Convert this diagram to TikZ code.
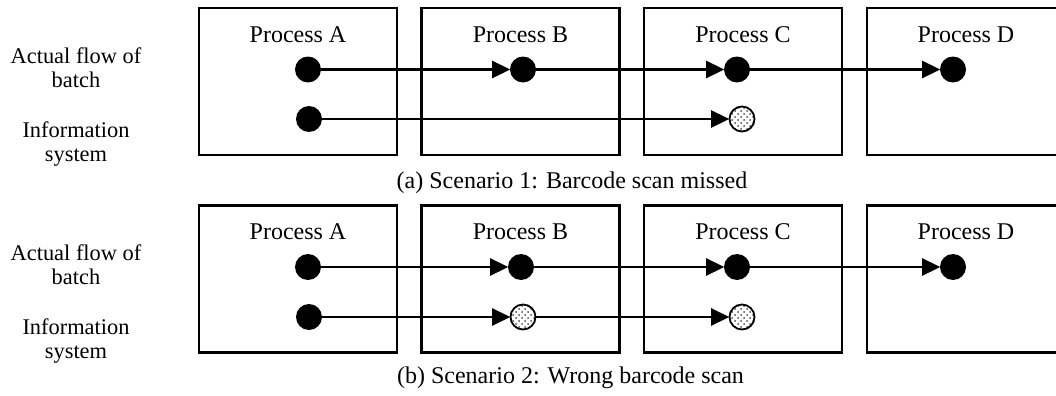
\documentclass[tikz,border=0pt]{standalone}
\usepackage{fontspec}
\setmainfont{Liberation Serif}
\usetikzlibrary{arrows.meta,patterns}
\tikzset{
  procbox/.style={draw, line width=1.1pt, rectangle, minimum width=99pt, minimum height=73.5pt, inner sep=0pt},
  lbl/.style={font=\fontsize{12}{12}\selectfont, anchor=base, inner sep=0pt},
  sidelbl/.style={font=\fontsize{11.2}{12}\selectfont, anchor=base, inner sep=0pt},
  fulldot/.style={circle, fill=black, minimum size=13pt, inner sep=0pt},
  scandot/.style={circle, draw, line width=0.9pt, fill=white, pattern=crosshatch dots, pattern color=black!70, minimum size=12.5pt, inner sep=0pt},
  flow/.style={line width=1.3pt, -{Triangle[length=9pt,width=8.5pt]}, shorten >=-0.3pt}
}
\begin{document}
\begin{tikzpicture}[x=0.5pt,y=-0.5pt]
\useasboundingbox (0,0) rectangle (1056,396);
\clip (0,0) rectangle (1056,396);
% ---------- panel (a) ----------
\node[procbox] (pa1) at (298,81.5) {};
\node[procbox] (pb1) at (520.5,81.5) {};
\node[procbox] (pc1) at (743,81.5) {};
\node[procbox] (pd1) at (966,81.5) {};
\node[lbl] (ta1) at (298,42) {Process A};
\node[lbl] (tb1) at (520.5,42) {Process B};
\node[lbl] (tc1) at (743,42) {Process C};
\node[lbl] (td1) at (966,42) {Process D};
\node[sidelbl] (l1a) at (76,63) {Actual flow of};
\node[sidelbl] (l1b) at (76,87) {batch};
\node[sidelbl] (l1c) at (76,137) {Information};
\node[sidelbl] (l1d) at (76,161) {system};
\node[fulldot] (a1) at (308,69.5) {};
\node[fulldot] (b1) at (523,69.5) {};
\node[fulldot] (c1) at (737,69.5) {};
\node[fulldot] (d1) at (953,69.5) {};
\node[fulldot] (ai1) at (309,119) {};
\node[scandot] (ci1) at (742,119) {};
\draw[flow] (a1) -- (b1);
\draw[flow] (b1) -- (c1);
\draw[flow] (c1) -- (d1);
\draw[flow] (ai1) -- (ci1);
\node[lbl] (cap1) at (572,188) {(a) Scenario 1: Barcode scan missed};
% ---------- panel (b) ----------
\node[procbox] (pa2) at (298,279) {};
\node[procbox] (pb2) at (520.5,279) {};
\node[procbox] (pc2) at (743,279) {};
\node[procbox] (pd2) at (966,279) {};
\node[lbl] (ta2) at (298,239) {Process A};
\node[lbl] (tb2) at (520.5,239) {Process B};
\node[lbl] (tc2) at (743,239) {Process C};
\node[lbl] (td2) at (966,239) {Process D};
\node[sidelbl] (l2a) at (76,260.5) {Actual flow of};
\node[sidelbl] (l2b) at (76,284.5) {batch};
\node[sidelbl] (l2c) at (76,334.5) {Information};
\node[sidelbl] (l2d) at (76,358.5) {system};
\node[fulldot] (a2) at (308,267) {};
\node[fulldot] (b2) at (521,267) {};
\node[fulldot] (c2) at (737,267) {};
\node[fulldot] (d2) at (953,267) {};
\node[fulldot] (ai2) at (309,317) {};
\node[scandot] (bi2) at (523,317) {};
\node[scandot] (ci2) at (742,317) {};
\draw[flow] (a2) -- (b2);
\draw[flow] (b2) -- (c2);
\draw[flow] (c2) -- (d2);
\draw[flow] (ai2) -- (bi2);
\draw[flow] (bi2) -- (ci2);
\node[lbl] (cap2) at (570.5,383) {(b) Scenario 2: Wrong barcode scan};
\end{tikzpicture}
\end{document}
